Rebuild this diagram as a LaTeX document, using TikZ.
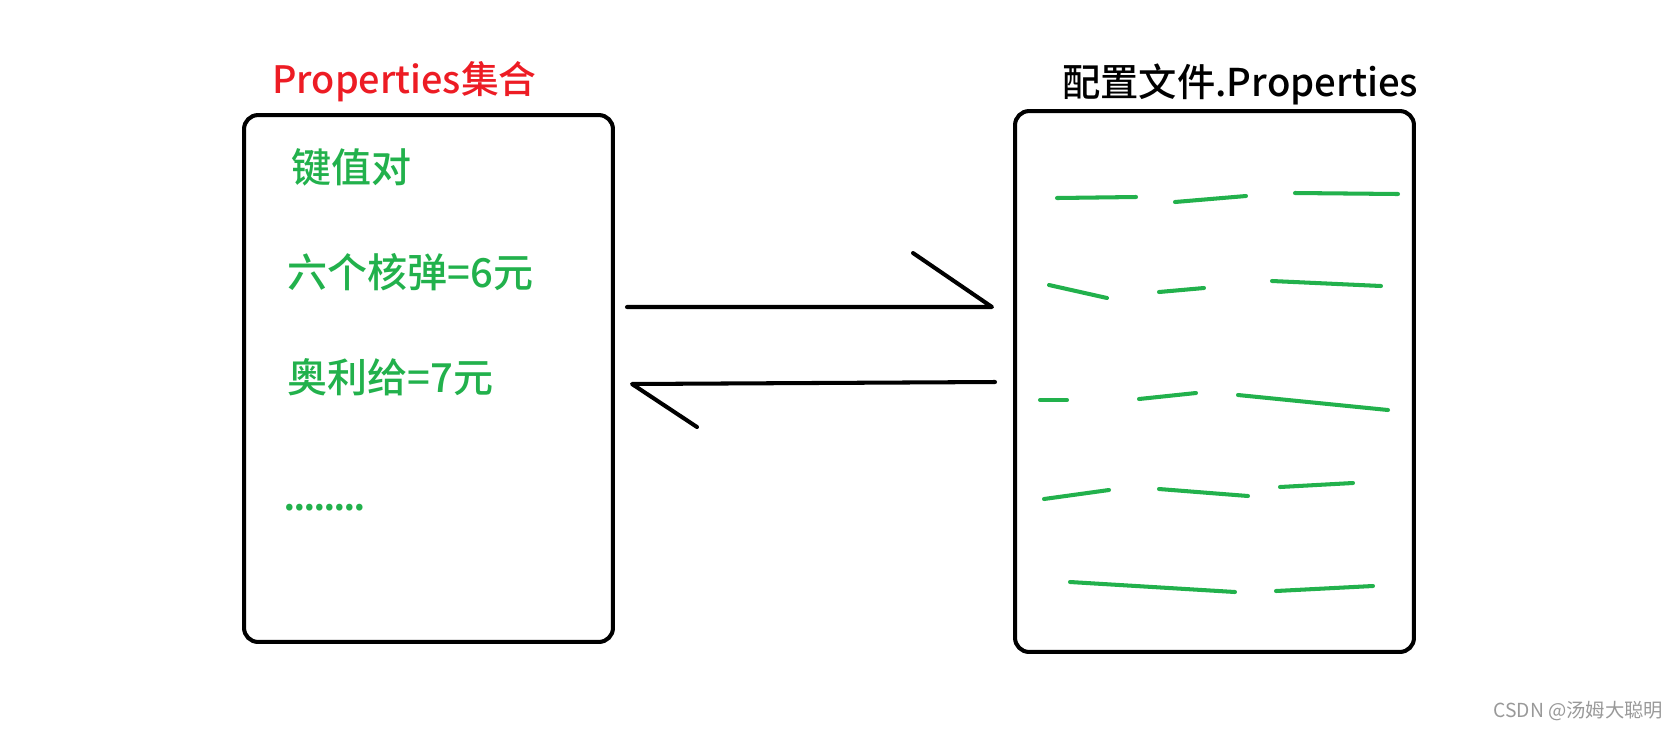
\documentclass[tikz,border=0pt]{standalone}
\usepackage{fontspec}
\setmainfont{Noto Sans CJK SC}
\newfontfamily\mediumfont{Noto Sans CJK SC Medium}
\definecolor{paintred}{HTML}{ED1C24}
\definecolor{paintgreen}{HTML}{22B14C}

\begin{document}
\begin{tikzpicture}[
  x=0.02cm, y=-0.02cm,
  box/.style={draw=black, line width=2.3pt, rounded corners=8pt, inner sep=0pt},
  title/.style={anchor=base west, inner sep=0pt, font=\mediumfont\fontsize{21.5}{25}\selectfont},
  entry/.style={anchor=base west, inner sep=0pt, text=paintgreen,
                font=\mediumfont\fontsize{22.8}{26}\selectfont},
  flow/.style={draw=black, line width=2.3pt, line cap=round, line join=round},
  scrib/.style={draw=paintgreen, line width=2.3pt, line cap=round}
]
\useasboundingbox (0,0) rectangle (1678,728);

% the two boxes
\node[box, minimum width=7.38cm, minimum height=10.54cm] (setbox)  at (428.5,378.5) {};
\node[box, minimum width=7.98cm, minimum height=10.82cm] (filebox) at (1214.5,381.5) {};

% titles
\node[title, text=paintred] (settitle) at (272,93) {Properties集合};
\node[title, text=black, font=\mediumfont\fontsize{21.8}{25}\selectfont] (filetitle) at (1062,96) {配置文件.Properties};

% key/value entries
\node[entry] (kv)   at (291,182)   {键值对};
\node[entry] (kv1)  at (287,287.5) {六个核弹=6元};
\node[entry] (kv2)  at (287,392.5) {奥利给=7元};
\node[entry, font=\mediumfont\fontsize{24}{26}\selectfont\addfontfeature{LetterSpace=-6}]
  (more) at (283,510) {........};

% arrows between the boxes
\coordinate (fw-s) at (627,307);
\coordinate (fw-e) at (992,307);
\coordinate (fw-b) at (913,253);
\coordinate (bw-s) at (995,382);
\coordinate (bw-e) at (632,384);
\coordinate (bw-b) at (697,427);
\draw[flow] (fw-s) -- (fw-e) -- (fw-b);
\draw[flow] (bw-s) -- (bw-e) -- (bw-b);

% lines of the file
\foreach \xa/\ya/\xb/\yb in {1057/198/1136/197, 1175/202/1246/196, 1295/193/1398/194,
                             1049/285/1107/298, 1159/292/1204/288, 1272/281/1381/286,
                             1040/400/1067/400, 1139/399/1196/393, 1238/395/1388/410,
                             1044/499/1109/490, 1159/489/1248/496, 1280/487/1353/483,
                             1070/582/1235/592, 1276/591/1373/586} {
  \draw[scrib] (\xa,\ya) -- (\xb,\yb);
}

% watermark
\node[anchor=base west, inner sep=0pt, text=black!40, font=\fontsize{11}{13}\selectfont]
  (mark) at (1493,717) {CSDN @汤姆大聪明};
\end{tikzpicture}
\end{document}
